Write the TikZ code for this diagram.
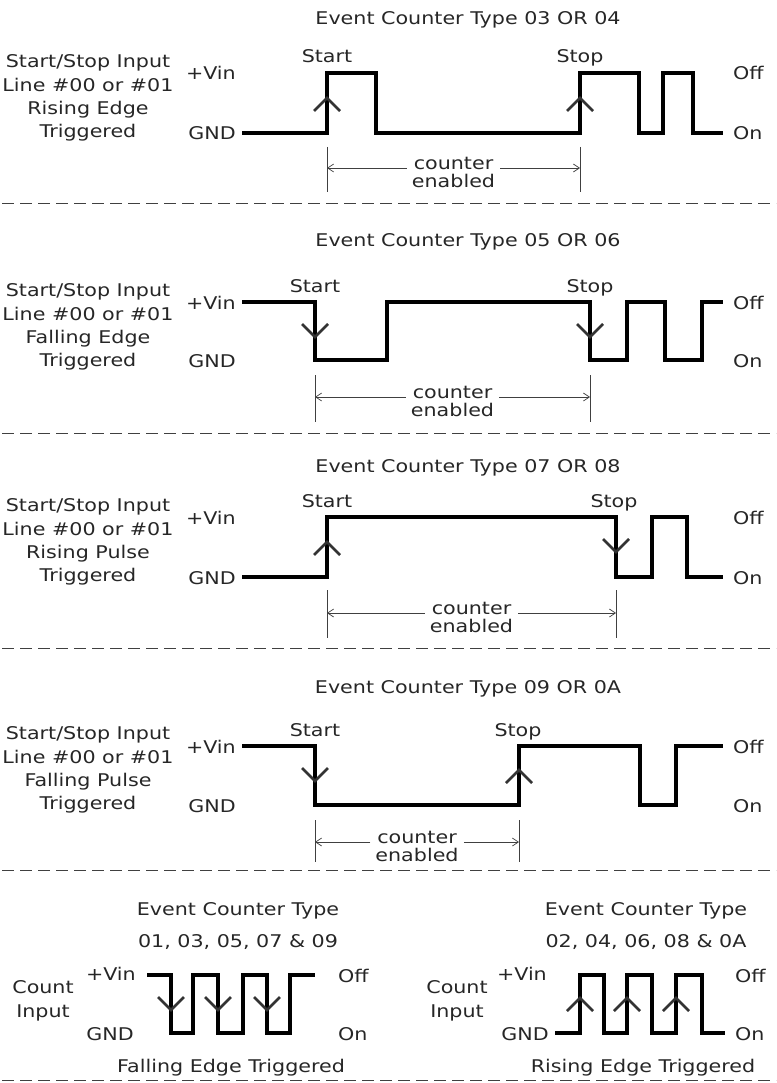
\documentclass[tikz,border=0pt]{standalone}
\usepackage{fontspec}
\setmainfont{DejaVu Sans}[FakeStretch=1.18]
\usetikzlibrary{arrows.meta}

\tikzset{
    wave/.style={line width=3.2pt, line join=miter},
    edgemark/.style={line width=2.6pt, black!80},
    dimline/.style={line width=0.7pt, black!75},
    dimarrow/.style={dimline, -{Straight Barb[length=6pt,width=8pt]}},
    sepline/.style={line width=0.8pt, black!75, dash pattern=on 12pt off 6pt},
    lbl/.style={inner sep=0pt, anchor=base, text=black!85},
    block/.style={inner sep=0pt, anchor=center, align=center, text=black!85},
    enabled/.style={block, inner xsep=5pt, font=\fontsize{17.5}{17.5}\selectfont},
}

\begin{document}
\begin{tikzpicture}[x=1pt, y=-1pt, font=\fontsize{17.5}{23.3}\selectfont]
    \useasboundingbox (0,0) rectangle (776,1083);

    % Separating lines
    \foreach \y in {203, 433, 648, 870, 1080} {
        \draw[sepline] (2,\y) -- (776,\y);
    }

    % Type 03 OR 04
    \node[lbl] (title1) at (468,25) {Event Counter Type 03 OR 04};
    \node[block] (input1) at (88,98) {Start/Stop Input\\Line \#00 or \#01\\Rising Edge\\Triggered};
    \node[lbl, anchor=base east] (vin1) at (236,80) {+Vin};
    \node[lbl, anchor=base east] (gnd1) at (236,140) {GND};
    \node[lbl, anchor=base west] (off1) at (733,80) {Off};
    \node[lbl, anchor=base west] (on1) at (733,140) {On};
    \node[lbl] (start1) at (327,63) {Start};
    \node[lbl] (stop1) at (580,63) {Stop};
    \draw[wave] (242,133) -- (327,133) -- (327,73) -- (376,73) -- (376,133) -- (580,133) -- (580,73)
        -- (639,73) -- (639,133) -- (663,133) -- (663,73) -- (693,73) -- (693,133) -- (723,133);
    \foreach \x in {327, 580} {
        \draw[edgemark] (\x-13,111) -- (\x,98) -- (\x+13,111);
        \draw[dimline] (\x,147) -- (\x,192);
    }
    \coordinate (a1) at (327,168);
    \coordinate (b1) at (580,168);
    \node[enabled] (ce1) at (453.5,172.5) {counter\\enabled};
    \draw[dimarrow] (ce1.west |- a1) -- (a1);
    \draw[dimarrow] (ce1.east |- b1) -- (b1);

    % Type 05 OR 06
    \node[lbl] (title2) at (468,247) {Event Counter Type 05 OR 06};
    \node[block] (input2) at (88,327) {Start/Stop Input\\Line \#00 or \#01\\Falling Edge\\Triggered};
    \node[lbl, anchor=base east] (vin2) at (236,309) {+Vin};
    \node[lbl, anchor=base east] (gnd2) at (236,367) {GND};
    \node[lbl, anchor=base west] (off2) at (733,309) {Off};
    \node[lbl, anchor=base west] (on2) at (733,367) {On};
    \node[lbl] (start2) at (315,292) {Start};
    \node[lbl] (stop2) at (590,292) {Stop};
    \draw[wave] (242,302) -- (315,302) -- (315,360) -- (387,360) -- (387,302) -- (590,302) -- (590,360)
        -- (627,360) -- (627,302) -- (665,302) -- (665,360) -- (702,360) -- (702,302) -- (723,302);
    \foreach \x in {315, 590} {
        \draw[edgemark] (\x-13,324) -- (\x,337) -- (\x+13,324);
        \draw[dimline] (\x,375) -- (\x,422);
    }
    \coordinate (a2) at (315,397);
    \coordinate (b2) at (590,397);
    \node[enabled] (ce2) at (452.5,401.5) {counter\\enabled};
    \draw[dimarrow] (ce2.west |- a2) -- (a2);
    \draw[dimarrow] (ce2.east |- b2) -- (b2);

    % Type 07 OR 08
    \node[lbl] (title3) at (468,472) {Event Counter Type 07 OR 08};
    \node[block] (input3) at (88,542) {Start/Stop Input\\Line \#00 or \#01\\Rising Pulse\\Triggered};
    \node[lbl, anchor=base east] (vin3) at (236,524) {+Vin};
    \node[lbl, anchor=base east] (gnd3) at (236,584) {GND};
    \node[lbl, anchor=base west] (off3) at (733,524) {Off};
    \node[lbl, anchor=base west] (on3) at (733,584) {On};
    \node[lbl] (start3) at (327,507) {Start};
    \node[lbl] (stop3) at (614,507) {Stop};
    \draw[wave] (242,577) -- (327,577) -- (327,517) -- (616,517) -- (616,577) -- (652,577) -- (652,517)
        -- (687,517) -- (687,577) -- (723,577);
    \draw[edgemark] (314,555) -- (327,542) -- (340,555);
    \draw[edgemark] (603,539) -- (616,552) -- (629,539);
    \foreach \x in {327, 616} {
        \draw[dimline] (\x,590) -- (\x,638);
    }
    \coordinate (a3) at (327,613);
    \coordinate (b3) at (616,613);
    \node[enabled] (ce3) at (471.5,617.5) {counter\\enabled};
    \draw[dimarrow] (ce3.west |- a3) -- (a3);
    \draw[dimarrow] (ce3.east |- b3) -- (b3);

    % Type 09 OR 0A
    \node[lbl] (title4) at (468,693) {Event Counter Type 09 OR 0A};
    \node[block] (input4) at (88,770) {Start/Stop Input\\Line \#00 or \#01\\Falling Pulse\\Triggered};
    \node[lbl, anchor=base east] (vin4) at (236,753) {+Vin};
    \node[lbl, anchor=base east] (gnd4) at (236,812) {GND};
    \node[lbl, anchor=base west] (off4) at (733,753) {Off};
    \node[lbl, anchor=base west] (on4) at (733,812) {On};
    \node[lbl] (start4) at (315,736) {Start};
    \node[lbl] (stop4) at (518,736) {Stop};
    \draw[wave] (242,746) -- (315,746) -- (315,805) -- (519,805) -- (519,746) -- (640,746) -- (640,805)
        -- (676,805) -- (676,746) -- (723,746);
    \draw[edgemark] (302,768) -- (315,781) -- (328,768);
    \draw[edgemark] (506,783) -- (519,770) -- (532,783);
    \foreach \x in {315, 519} {
        \draw[dimline] (\x,820) -- (\x,862);
    }
    \coordinate (a4) at (315,842);
    \coordinate (b4) at (519,842);
    \node[enabled] (ce4) at (417,846.5) {counter\\enabled};
    \draw[dimarrow] (ce4.west |- a4) -- (a4);
    \draw[dimarrow] (ce4.east |- b4) -- (b4);

    % Count input, falling edge
    \node[block, font=\fontsize{17.5}{32}\selectfont] (title5) at (238,926) {Event Counter Type\\01, 03, 05, 07 \& 09};
    \node[block, font=\fontsize{17.5}{24}\selectfont] (count5) at (43,1001) {Count\\Input};
    \node[lbl, anchor=base east] (vin5) at (136,980) {+Vin};
    \node[lbl, anchor=base east] (gnd5) at (134,1040) {GND};
    \node[lbl, anchor=base west] (off5) at (338,982) {Off};
    \node[lbl, anchor=base west] (on5) at (338,1040) {On};
    \node[lbl] (trig5) at (231,1072) {Falling Edge Triggered};
    \draw[wave] (147,975) -- (171,975) -- (171,1033) -- (193,1033) -- (193,975) -- (218,975) -- (218,1033)
        -- (243,1033) -- (243,975) -- (267,975) -- (267,1033) -- (290,1033) -- (290,975) -- (315,975);
    \foreach \x in {171, 218, 267} {
        \draw[edgemark] (\x-13,997) -- (\x,1010) -- (\x+13,997);
    }

    % Count input, rising edge
    \node[block, font=\fontsize{17.5}{32}\selectfont] (title6) at (646,926) {Event Counter Type\\02, 04, 06, 08 \& 0A};
    \node[block, font=\fontsize{17.5}{24}\selectfont] (count6) at (457,1001) {Count\\Input};
    \node[lbl, anchor=base east] (vin6) at (547,980) {+Vin};
    \node[lbl, anchor=base east] (gnd6) at (549,1040) {GND};
    \node[lbl, anchor=base west] (off6) at (735,982) {Off};
    \node[lbl, anchor=base west] (on6) at (735,1040) {On};
    \node[lbl] (trig6) at (643,1072) {Rising Edge Triggered};
    \draw[wave] (555,1033) -- (580,1033) -- (580,975) -- (604,975) -- (604,1033) -- (627,1033) -- (627,975)
        -- (652,975) -- (652,1033) -- (676,1033) -- (676,975) -- (702,975) -- (702,1033) -- (725,1033);
    \foreach \x in {580, 627, 676} {
        \draw[edgemark] (\x-13,1011) -- (\x,998) -- (\x+13,1011);
    }

\end{tikzpicture}
\end{document}
